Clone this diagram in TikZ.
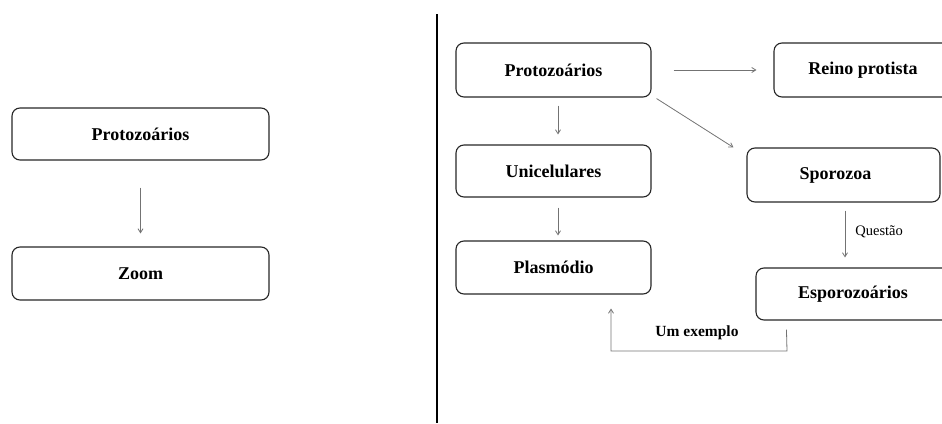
\documentclass[tikz,border=0pt]{standalone}
\usepackage{fontspec}
\setmainfont{Liberation Serif}
\usetikzlibrary{arrows.meta}
\tikzset{
  box/.style={draw=black!85, line width=1.1pt, rounded corners=8pt, inner sep=0pt,
    font=\fontsize{18}{21}\selectfont\bfseries},
  arr/.style={draw=black!55, line width=0.8pt, -{Straight Barb[length=4pt,width=5pt]}},
  lbl/.style={inner sep=0pt, font=\fontsize{14.5}{17}\selectfont}
}
\begin{document}
\begin{tikzpicture}[x=1pt,y=-1pt]
\useasboundingbox (0,0) rectangle (942,423);
\clip (0,0) rectangle (942,423);
% left panel
\node[box, minimum width=257, minimum height=52] (L1) at (140.5,134) {Protozoários};
\node[box, minimum width=257, minimum height=53] (L2) at (140.5,273.5) {Zoom};
\draw[arr] ([yshift=-27]L1.south) -- ([yshift=13]L2.north);
% divider
\coordinate (d1) at (437,14);
\coordinate (d2) at (437,423);
\draw[line width=1.1pt] (d1) -- (d2);
% right panel
\node[box, minimum width=195, minimum height=54] (P) at (553.5,70) {Protozoários};
\node[box, minimum width=250, minimum height=54] (R) at (899,70) {\hspace*{-72pt}Reino protista};
\node[box, minimum width=195, minimum height=52] (U) at (553.5,171) {Unicelulares};
\node[box, minimum width=193, minimum height=54] (S) at (843.5,175) {\hspace*{-16pt}Sporozoa};
\node[box, minimum width=195, minimum height=53] (Pl) at (553.5,267.5) {Plasmódio};
\node[box, minimum width=250, minimum height=52] (E) at (881,294) {\hspace*{-56pt}Esporozoários};
\draw[arr] ([xshift=22]P.east) -- ([xshift=-17]R.west |- P.east);
\draw[arr] ([xshift=4.5,yshift=-8]P.south) -- ([xshift=4.5,yshift=10]U.north);
\draw[arr] ([xshift=5,yshift=-1]P.south east) -- ([xshift=-13]S.north west);
\draw[arr] ([xshift=4.5,yshift=-10]U.south) -- ([xshift=4.5,yshift=5]Pl.north);
\draw[arr] ([xshift=1.5,yshift=-8]S.south) -- node[lbl, right=10pt, pos=0.45] {Questão} ([xshift=1.5,yshift=10]S.south |- E.north);
\coordinate (c1) at (787,351);
\draw[arr] ([xshift=31,yshift=-9]E.south west) -- (c1) -- ([xshift=57.5]c1 -| Pl.south) -- ([xshift=57.5,yshift=-14]Pl.south);
\node[lbl, font=\fontsize{15.5}{18}\selectfont\bfseries] (ex) at (697,333) {Um exemplo};
\end{tikzpicture}
\end{document}
